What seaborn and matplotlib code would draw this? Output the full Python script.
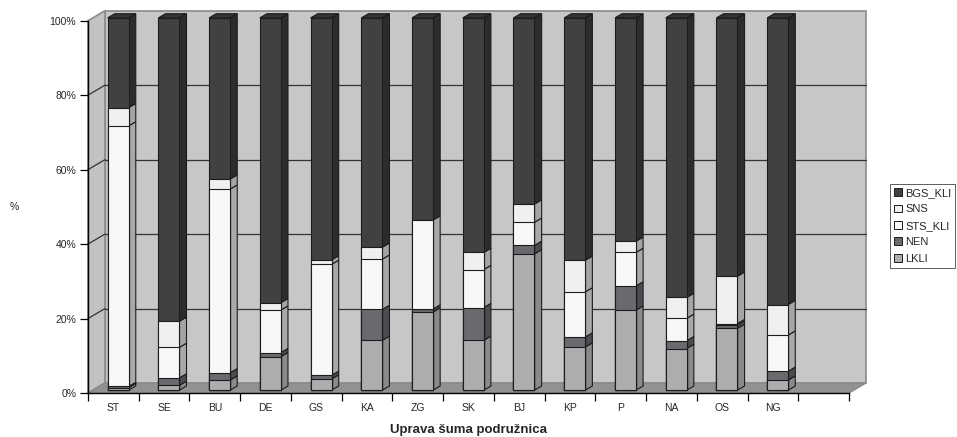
import numpy as np
import pandas as pd
import matplotlib
matplotlib.use("Agg")
import matplotlib.pyplot as plt
from matplotlib.patches import Polygon, Patch
from matplotlib.transforms import Affine2D
import seaborn as sns

# ---- data (percent of each branch) ----
categories = ["ST", "SE", "BU", "DE", "GS", "KA", "ZG", "SK", "BJ", "KP", "P", "NA", "OS", "NG"]
lkli    = [0.7, 1.3, 2.7, 9.0, 3.0, 13.4, 21.0, 13.4, 36.6, 11.6, 21.5, 11.2, 16.6, 2.7]
nen     = [0.3, 2.0, 2.0, 1.1, 1.0, 8.3, 0.8, 8.8, 2.3, 2.7, 6.5, 2.1, 0.9, 2.4]
sts_kli = [70.0, 8.2, 49.3, 11.4, 29.8, 13.5, 23.9, 10.2, 6.2, 12.1, 9.0, 6.0, 0.4, 9.7]
sns_val = [4.9, 7.0, 2.7, 2.0, 1.2, 3.2, 0.0, 4.6, 4.9, 8.5, 3.0, 5.6, 12.7, 8.2]
bgs_kli = [24.1, 81.5, 43.3, 76.5, 65.0, 61.6, 54.3, 63.0, 50.0, 65.1, 60.0, 75.1, 69.4, 77.0]

series_names = ["LKLI", "NEN", "STS_KLI", "SNS", "BGS_KLI"]
series_vals = [lkli, nen, sts_kli, sns_val, bgs_kli]
front_colors = ["#adadb0", "#6a6a6e", "#f8f8f8", "#eff0ef", "#414144"]
side_colors = ["#8a8a8d", "#4c4c50", "#a9a9a9", "#a3a5a5", "#2c2c2e"]
top_color = "#343436"

df = pd.DataFrame(dict(zip(series_names, series_vals)), index=categories)
df.index.name = "podruznica"
cum = df.cumsum(axis=1)

# ---- figure / axes ----
W, H = 957, 437
fig = plt.figure(figsize=(W / 100, H / 100), dpi=100)
sns.set_style("white")
plt.rcParams["font.family"] = ["Liberation Sans", "DejaVu Sans"]
ax = fig.add_axes([88 / W, (H - 393) / H, 761 / W, (393 - 20.7) / H])

n_slots = len(categories) + 1
x_lo, x_hi = -0.5, n_slots - 0.5
px_x = 761 / n_slots           # pixels per category unit
px_y = (393 - 20.7) / 100      # pixels per percent
DX, DY = 17 / px_x, 10 / px_y  # full depth of the 3D box in data units
F0, FD = 0.28, 0.42            # bar front depth and bar thickness (fractions of box depth)
BAR_W = 21 / px_x

# ---- walls and floor ----
wall_c, side_wall_c, floor_c, border_c = "#c6c7c9", "#c2c2c4", "#929294", "#8a8a8c"
back = Polygon([(x_lo + DX, DY), (x_hi + DX, DY), (x_hi + DX, 100 + DY), (x_lo + DX, 100 + DY)],
               closed=True, fc=wall_c, ec=border_c, lw=1.2, zorder=0, clip_on=False)
left = Polygon([(x_lo, 0), (x_lo + DX, DY), (x_lo + DX, 100 + DY), (x_lo, 100)],
               closed=True, fc=side_wall_c, ec=border_c, lw=1.2, zorder=0, clip_on=False)
floor = Polygon([(x_lo, 0), (x_hi, 0), (x_hi + DX, DY), (x_lo + DX, DY)],
                closed=True, fc=floor_c, ec=border_c, lw=1.0, zorder=1, clip_on=False)
for p in (back, left, floor):
    ax.add_patch(p)

for g in (20, 40, 60, 80):
    ax.plot([x_lo + DX, x_hi + DX], [g + DY, g + DY], color="#333333", lw=0.9, zorder=0.5, clip_on=False)
    ax.plot([x_lo, x_lo + DX], [g, g + DY], color="#333333", lw=0.9, zorder=0.5, clip_on=False)

# ---- bars: front faces via seaborn (cumulative, overlaid top to bottom) ----
shift = Affine2D().translate(F0 * DX, F0 * DY) + ax.transData
plot_df = cum.reset_index()
for k in range(len(series_names) - 1, -1, -1):
    n_before = len(ax.patches)
    sns.barplot(data=plot_df, x="podruznica", y=series_names[k], color=front_colors[k],
                saturation=1, width=BAR_W, edgecolor="#1c1c1c", linewidth=0.8,
                zorder=3 + (len(series_names) - k), ax=ax)
    for p in ax.patches[n_before:]:
        p.set_transform(shift)
        p.set_clip_on(False)

# ---- bars: side and top faces ----
ddx, ddy = FD * DX, FD * DY
for i in range(len(categories)):
    xr = i + BAR_W / 2
    xl = i - BAR_W / 2
    bottom = 0.0
    for k, name in enumerate(series_names):
        top = cum.iloc[i][name]
        if top - bottom > 0:
            side = Polygon([(xr, bottom), (xr + ddx, bottom + ddy), (xr + ddx, top + ddy), (xr, top)],
                           closed=True, fc=side_colors[k], ec="#1c1c1c", lw=0.8, zorder=3,
                           transform=shift, clip_on=False)
            ax.add_patch(side)
        bottom = top
    cap = Polygon([(xl, bottom), (xr, bottom), (xr + ddx, bottom + ddy), (xl + ddx, bottom + ddy)],
                  closed=True, fc=top_color, ec="#1c1c1c", lw=0.8, zorder=3,
                  transform=shift, clip_on=False)
    ax.add_patch(cap)

# ---- axes styling ----
ax.set_xlim(x_lo, x_hi)
ax.set_ylim(0, 100)
ax.patch.set_visible(False)
for s in ("top", "right"):
    ax.spines[s].set_visible(False)
for s in ("left", "bottom"):
    ax.spines[s].set_color("black")
    ax.spines[s].set_linewidth(1.0)
    ax.spines[s].set_zorder(10)

ax.set_yticks([0, 20, 40, 60, 80, 100])
ax.set_yticklabels([f"{v}%" for v in (0, 20, 40, 60, 80, 100)])
ax.set_xticks(np.arange(x_lo, x_hi + 0.01, 1.0))
ax.set_xticklabels([])
ax.set_xticks(np.arange(len(categories)), minor=True)
ax.set_xticklabels(categories, minor=True)
ax.tick_params(axis="y", which="major", direction="out", length=6, width=0.9, color="black",
               labelsize=7.5, pad=2.5, left=True)
ax.tick_params(axis="x", which="major", direction="out", length=6, width=0.9, color="black", bottom=True)
ax.tick_params(axis="x", which="minor", length=0, labelsize=7.5, pad=7)
ax.set_xlabel("Uprava šuma podružnica", fontsize=9.5, fontweight="bold", labelpad=8)
ax.set_ylabel("")
fig.text(14 / W, 1 - 207 / H, "%", fontsize=7.5, ha="center", va="center")

# ---- legend ----
handles = [Patch(fc=front_colors[k], ec="#1c1c1c", lw=0.7) for k in range(len(series_names) - 1, -1, -1)]
labels = series_names[::-1]
leg = fig.legend(handles, labels, loc="upper left", bbox_to_anchor=(890 / W, 1 - 184 / H),
                 fontsize=8, frameon=True, fancybox=False, handlelength=0.7, handleheight=0.7,
                 handletextpad=0.3, labelspacing=0.58, borderpad=0.35, borderaxespad=0)
leg.get_frame().set_edgecolor("#333333")
leg.get_frame().set_linewidth(0.7)

fig.savefig("out.png", dpi=100, facecolor="white")
